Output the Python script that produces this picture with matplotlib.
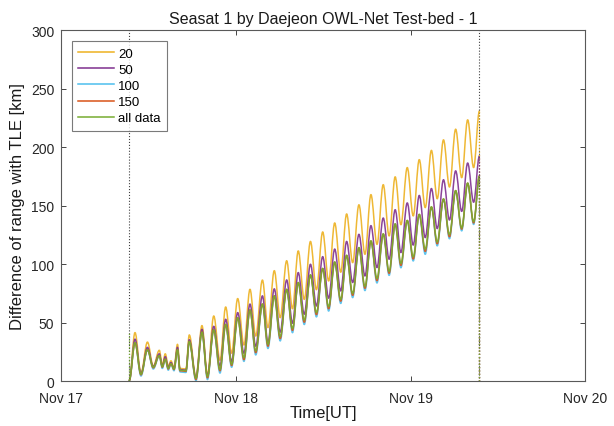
"""Seasat 1 range difference vs TLE, Daejeon OWL-Net test-bed pass set 1."""

from __future__ import annotations

from datetime import datetime, timedelta

import matplotlib

matplotlib.use("Agg")
import matplotlib.dates as mdates
import matplotlib.pyplot as plt
from matplotlib.lines import Line2D
from matplotlib.patches import PathPatch
from matplotlib.path import Path

plt.rcParams["font.family"] = ["Liberation Sans", "DejaVu Sans"]

T0 = datetime(2016, 11, 17)

# turning points of the curves, hours after Nov 17 00:00 UT
HOURS = [
    9.34, 10.13, 10.95, 11.84, 12.64, 13.47, 13.88, 14.29, 14.70, 15.07,
    15.49, 15.97, 16.31, 17.13, 17.59, 18.51, 19.33, 20.09, 20.95, 21.81,
    22.59, 23.41, 24.24, 25.10, 25.93, 26.72, 27.64, 28.40, 29.27, 30.08,
    30.97, 31.77, 32.56, 33.39, 34.24, 35.06, 35.92, 36.74, 37.57, 38.40,
    39.21, 40.04, 40.90, 41.73, 42.55, 43.38, 44.24, 45.05, 45.88, 46.67,
    47.54, 48.36, 49.19, 50.01, 50.86, 51.66, 52.52, 53.34, 54.19, 55.02,
    55.84, 56.66, 57.46,
]

# range difference [km] at those points
DIFF_20 = [
    1, 41.6, 7, 33.5, 13, 26.5, 14, 23.5, 13, 17.5,
    12, 31.6, 11, 10.5, 39.6, 3.5, 47.6, 6, 55.8, 18,
    63.5, 24, 70.7, 31, 78.6, 38.7, 86.5, 45.9, 94.5, 54.4,
    103, 62, 111.4, 70, 119.5, 78.3, 127.6, 85.7, 135.3, 93.2,
    143, 101.4, 150.8, 108.5, 159.5, 117, 168, 124.2, 174.7, 133.8,
    182.6, 141.3, 189.4, 148.4, 197.3, 156, 206.3, 166, 215.4, 174,
    223.4, 182.6, 231,
]
DIFF_50 = [
    1, 36, 6.5, 29, 12.5, 23.5, 13, 21, 12, 16,
    11, 29, 10, 9.5, 35.5, 3, 44.4, 4.5, 47, 13,
    53, 17, 58.7, 24, 66, 30, 73, 33, 79, 42,
    86.6, 49.6, 92.9, 57.3, 100, 64.4, 106.5, 71, 113, 77.2,
    119.5, 84.4, 125.6, 90, 133, 97.2, 139.5, 104.3, 146.6, 110,
    152.4, 116.4, 158.8, 122.8, 164.7, 130.5, 172.2, 137.8, 179.8, 145.2,
    186.5, 153, 192.6,
]
DIFF_100 = [
    0.5, 33, 4.5, 26.5, 10.5, 21.5, 11, 18.5, 9.5, 14.5,
    9, 26.5, 8, 7.5, 33.5, 0.5, 41.5, 1.5, 43.5, 7,
    48, 12, 54, 17, 60.5, 22.5, 65.5, 28, 72.5, 34.5,
    78, 41.5, 84, 48.5, 90.5, 55, 96, 60, 101.5, 66.5,
    107, 71.5, 113.5, 77.5, 119.5, 84, 125.5, 90.5, 134, 97,
    137, 102.8, 142, 108.5, 148.5, 115.7, 155.3, 121.8, 162.5, 128.5,
    169, 134, 175,
]
DIFF_150 = [
    0.5, 33, 5.5, 27, 11.5, 22, 12, 19, 10.5, 15,
    10, 27, 9, 8.5, 34, 1.5, 42, 3, 44, 9,
    48.5, 13.5, 54.3, 18.5, 61, 24.5, 66, 30, 73, 36.5,
    78.5, 43.5, 84.3, 50.5, 90.8, 57, 96.3, 62, 101.8, 68.5,
    107.5, 73.5, 114, 79.5, 119.8, 86, 125.8, 92.3, 134.3, 99,
    137.3, 104.5, 142.5, 111, 148.8, 117.5, 155.6, 123.5, 162.8, 130,
    169.2, 135.3, 175.3,
]
DIFF_ALL = [
    1, 33, 6, 27, 12, 22, 12.5, 19, 11, 15,
    10.5, 27, 9.5, 9, 34, 2.5, 42, 4, 44, 10,
    48.7, 14.5, 54.4, 20.2, 61, 26, 66, 31.6, 73, 38.2,
    78.6, 45, 84.4, 52.3, 91, 58.7, 96.5, 63.7, 102, 70,
    107.7, 75, 114.3, 81, 120, 87.8, 126, 93.8, 134.6, 100.7,
    137.5, 106.3, 142.7, 112.9, 149.1, 119, 155.9, 125.3, 163, 131,
    169.4, 136.3, 175.5,
]

SERIES = [
    ("20", DIFF_20, "#EDB120"),
    ("50", DIFF_50, "#7E2F8E"),
    ("100", DIFF_100, "#4DBEEE"),
    ("150", DIFF_150, "#D95319"),
    ("all data", DIFF_ALL, "#77AC30"),
]

X_START, X_END = datetime(2016, 11, 17), datetime(2016, 11, 20)
Y_MAX = 300


def smooth_path(x, y, k=0.36):
    """Cubic segments with flat tangents at each turning point."""
    verts = [(x[0], y[0])]
    codes = [Path.MOVETO]
    for i in range(len(x) - 1):
        dx = x[i + 1] - x[i]
        verts += [(x[i] + k * dx, y[i]), (x[i + 1] - k * dx, y[i + 1]), (x[i + 1], y[i + 1])]
        codes += [Path.CURVE4] * 3
    return Path(verts, codes)


def main() -> None:
    fig = plt.figure(figsize=(6.14, 4.27), dpi=100)
    ax = fig.add_axes([0.0998, 0.1047, 0.8534, 0.8223])

    x = mdates.date2num([T0 + timedelta(hours=h) for h in HOURS])

    ax.axvline(x[0], color="0.25", ls=":", lw=0.8)
    ax.axvline(x[-1], color="0.25", ls=":", lw=0.8)

    handles = []
    for label, vals, color in SERIES:
        ax.add_patch(PathPatch(smooth_path(x, vals), facecolor="none", edgecolor=color,
                               lw=1.1, alpha=0.9, joinstyle="round", capstyle="round"))
        ax.vlines(x[-1], 0, vals[-1], color=color, ls=":", lw=0.9)
        handles.append(Line2D([], [], color=color, lw=1.1, label=label))
    ax.vlines(x[0], 0, max(DIFF_20[:3]), color=SERIES[-1][2], ls=":", lw=0.9)

    ax.set_xlim(mdates.date2num(X_START), mdates.date2num(X_END))
    ax.set_ylim(0, Y_MAX)
    ax.xaxis.set_major_locator(mdates.DayLocator())
    ax.xaxis.set_major_formatter(mdates.DateFormatter("%b %d"))
    ax.set_yticks(range(0, Y_MAX + 1, 50))

    ax.tick_params(direction="in", length=3.5, width=0.6, colors="0.15",
                   labelsize=10, top=True, right=True)
    ax.tick_params(axis="x", pad=7)
    ax.tick_params(axis="y", pad=5)
    for sp in ax.spines.values():
        sp.set_color("0.35")
        sp.set_linewidth(0.8)

    ax.set_title("Seasat 1 by Daejeon OWL-Net Test-bed - 1", fontsize=11.5, color="0.1", pad=5)
    ax.set_xlabel("Time[UT]", fontsize=12, color="0.1", labelpad=0)
    ax.set_ylabel("Difference of range with TLE [km]", fontsize=12, color="0.1", labelpad=4)

    leg = ax.legend(handles=handles, loc="upper left", fontsize=9.5, frameon=True,
                    fancybox=False, handlelength=2.7, handletextpad=0.3,
                    labelspacing=0.3, borderaxespad=0.8, borderpad=0.5)
    leg.get_frame().set_edgecolor("0.35")
    leg.get_frame().set_linewidth(0.8)

    fig.savefig("out.png", dpi=100)
    plt.close(fig)


if __name__ == "__main__":
    main()
